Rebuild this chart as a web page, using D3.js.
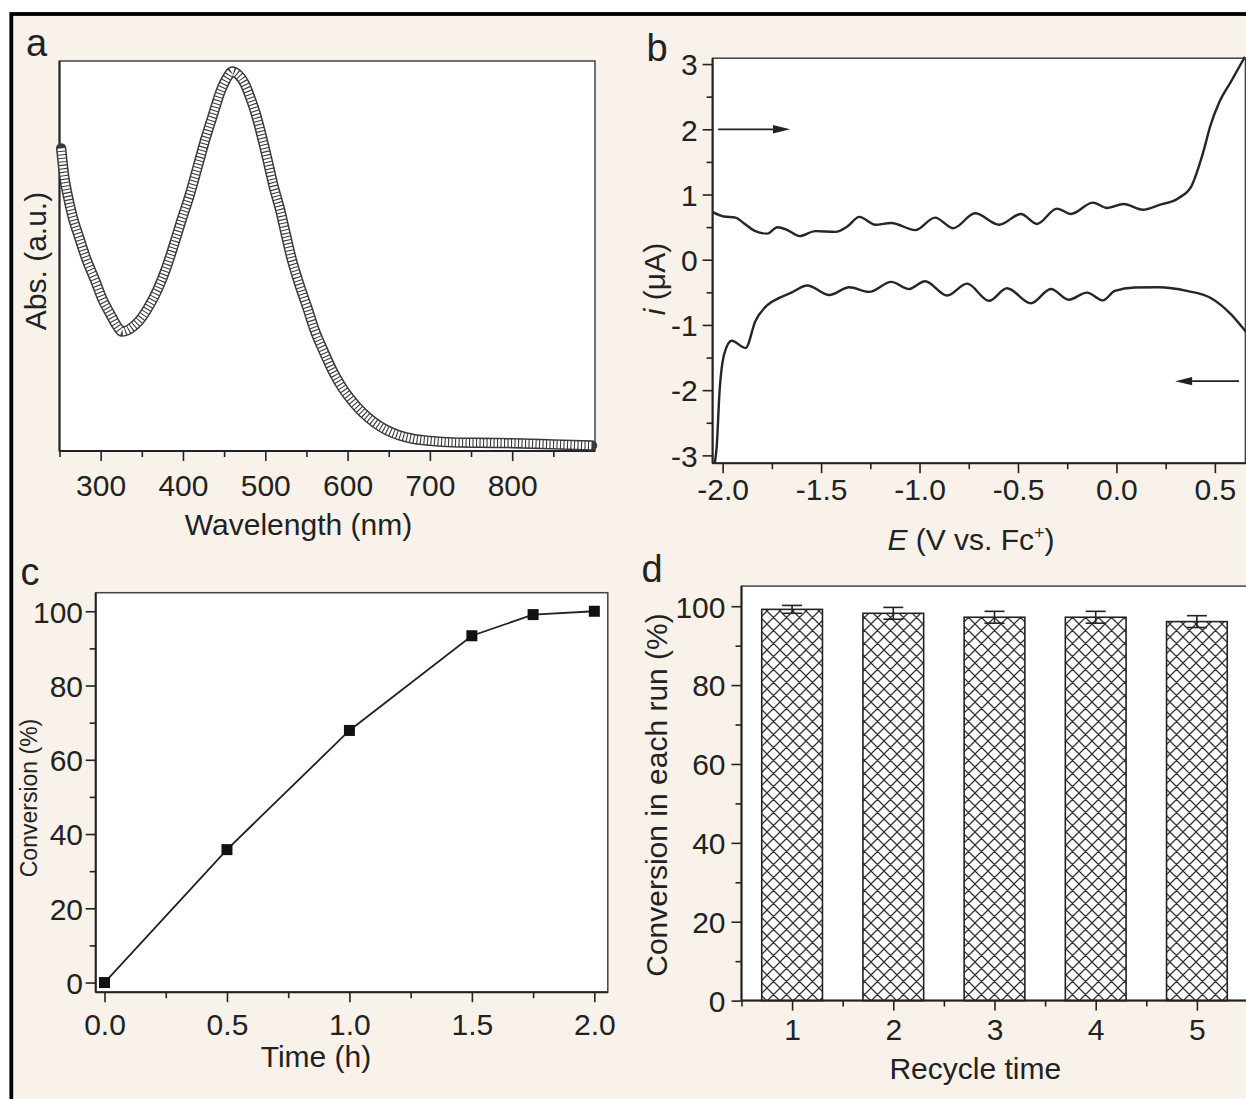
<!DOCTYPE html>
<html><head><meta charset="utf-8">
<script src="https://cdn.jsdelivr.net/npm/d3@7"></script>
<style>
body{margin:0;background:#fff}
svg{display:block}
text{font-family:"Liberation Sans",Arial,Helvetica,sans-serif;fill:#222}
</style>
</head><body>
<svg id="fig" width="1246" height="1099"></svg>
<script>
// ---------- DATA ----------
// (a) UV-vis absorption spectrum (arbitrary units, 0..1 of plot height)
const uvWavelength = [252,256,260,266,274,283,293,302,312,320,326,333,340,346,357,369,379,389,398,408,418,427,437,446,453,460,467,475,482,489,496,503,510,518,525,532,541,551,560,570,582,594,606,618,632,647,663,680,700,728,760,800,850,897];
const uvAbsorbance = [0.776,0.70,0.655,0.60,0.547,0.49,0.439,0.39,0.350,0.320,0.306,0.310,0.320,0.332,0.365,0.413,0.465,0.529,0.59,0.655,0.73,0.798,0.865,0.924,0.955,0.973,0.965,0.942,0.905,0.861,0.805,0.744,0.68,0.619,0.555,0.493,0.43,0.368,0.31,0.260,0.205,0.161,0.127,0.099,0.074,0.054,0.040,0.031,0.026,0.022,0.021,0.020,0.017,0.014];
const uvTicks = [300,400,500,600,700,800];
const uvMinorTicks = [250,350,450,550,650,750,850];

// (b) cyclic voltammogram
const cvForwardE = [-2.051,-1.995,-1.934,-1.894,-1.834,-1.773,-1.722,-1.671,-1.610,-1.529,-1.427,-1.367,-1.306,-1.225,-1.144,-1.022,-0.921,-0.829,-0.718,-0.596,-0.485,-0.404,-0.302,-0.231,-0.119,-0.048,0.037,0.134,0.215,0.317,0.378,0.439,0.479,0.520,0.581,0.652];
const cvForwardI = [0.729,0.663,0.646,0.564,0.438,0.400,0.498,0.454,0.362,0.438,0.427,0.509,0.657,0.537,0.564,0.454,0.646,0.482,0.712,0.537,0.701,0.548,0.784,0.701,0.876,0.794,0.854,0.767,0.838,0.948,1.112,1.632,2.071,2.399,2.728,3.11];
const cvReverseE = [-2.040,-2.030,-2.016,-1.991,-1.954,-1.883,-1.834,-1.773,-1.712,-1.651,-1.570,-1.458,-1.357,-1.256,-1.144,-1.053,-0.972,-0.860,-0.759,-0.647,-0.556,-0.434,-0.333,-0.242,-0.150,-0.069,-0.008,0.093,0.215,0.358,0.479,0.581,0.658];
const cvReverseI = [-3.12,-2.859,-2.038,-1.436,-1.243,-1.353,-0.942,-0.696,-0.586,-0.504,-0.395,-0.542,-0.422,-0.493,-0.340,-0.449,-0.329,-0.548,-0.367,-0.630,-0.438,-0.668,-0.449,-0.613,-0.504,-0.624,-0.477,-0.427,-0.422,-0.477,-0.586,-0.833,-1.106];
const cvXTicks = [-2.0,-1.5,-1.0,-0.5,0.0,0.5];
const cvXMinorTicks = [-1.75,-1.25,-0.75,-0.25,0.25];
const cvYTicks = [-3,-2,-1,0,1,2,3];
const cvYMinorTicks = [-2.5,-1.5,-0.5,0.5,1.5,2.5];
// scan-direction arrows [E start, E end, i]
const arrowForward = [-2.023,-1.658,2.0];
const arrowReverse = [0.623,0.298,-1.862];

// (c) conversion vs time
const timeH = [0,0.5,1.0,1.5,1.75,2.0];
const conversionPct = [0,35.8,67.9,93.4,99.1,100];
const timeTicks = [0,0.5,1.0,1.5,2.0];
const timeMinorTicks = [0.25,0.75,1.25,1.75];
const convTicks = [0,20,40,60,80,100];
const convMinorTicks = [10,30,50,70,90];

// (d) recycling
const recycleRun = [1,2,3,4,5];
const recycleConv = [99.2,98.2,97.2,97.2,96.1];
const recycleErr = [1.0,1.5,1.5,1.5,1.5];
const recycleMinorTicks = [0.5,1.5,2.5,3.5,4.5,5.5];

// ---------- DRAWING ----------
const svg = d3.select('#fig');
svg.append('rect').attr('x',11.3).attr('y',14).attr('width',1260).attr('height',1120)
  .attr('fill','#f9f2ea').attr('stroke','#000').attr('stroke-width',3.8);

const defs = svg.append('defs');
const P = 13;
const pat = defs.append('pattern').attr('id','xhatch').attr('patternUnits','userSpaceOnUse')
  .attr('width',P).attr('height',P);
pat.append('rect').attr('width',P).attr('height',P).attr('fill','#fff');
pat.append('path')
  .attr('d',`M-2,-2L${P+2},${P+2}M${P-2},-2L${P+2},2M-2,${P-2}L2,${P+2}` +
            `M-2,${P+2}L${P+2},-2M-2,2L2,-2M${P-2},${P+2}L${P+2},${P-2}`)
  .attr('stroke','#333').attr('stroke-width',1.25).attr('fill','none');

function frame(x0,y0,x1,y1){
  svg.append('rect').attr('x',x0).attr('y',y0).attr('width',x1-x0).attr('height',y1-y0)
    .attr('fill','#fff').attr('stroke','#444').attr('stroke-width',1.5);
}
function styleAxis(g){
  g.select('.domain').remove();
  g.selectAll('.tick line').attr('stroke','#222').attr('stroke-width',1.6);
  g.selectAll('.tick text').style('font-size','30px').attr('fill','#222');
}
function bottomAxis(scale,y,major,minor,fmt,labelOff){
  const g = svg.append('g').attr('transform',`translate(0,${y})`)
    .call(d3.axisBottom(scale).tickValues(major).tickSize(10).tickFormat(fmt));
  styleAxis(g);
  g.selectAll('.tick text').attr('y',labelOff).attr('dy',0);
  const m = svg.append('g').attr('transform',`translate(0,${y})`)
    .call(d3.axisBottom(scale).tickValues(minor).tickSize(6).tickFormat(''));
  styleAxis(m);
}
function leftAxis(scale,x,major,minor,fmt,labelOff){
  const g = svg.append('g').attr('transform',`translate(${x},0)`)
    .call(d3.axisLeft(scale).tickValues(major).tickSize(10).tickFormat(fmt));
  styleAxis(g);
  g.selectAll('.tick text').attr('x',-labelOff).attr('dy','0.36em');
  const m = svg.append('g').attr('transform',`translate(${x},0)`)
    .call(d3.axisLeft(scale).tickValues(minor).tickSize(6).tickFormat(''));
  styleAxis(m);
}
function axisLine(x0,y0,x1,y1){
  svg.append('line').attr('x1',x0).attr('y1',y0).attr('x2',x1).attr('y2',y1)
    .attr('stroke','#222').attr('stroke-width',2);
}
function label(txt,x,y,size,rot){
  const t = svg.append('text').attr('text-anchor','middle').style('font-size',size+'px');
  if(rot){ t.attr('transform',`translate(${x},${y}) rotate(-90)`).attr('dy','0.35em'); }
  else { t.attr('x',x).attr('y',y); }
  t.text(txt);
  return t;
}

// ----- panel a -----
const xa = d3.scaleLinear().domain([250,900]).range([59.5,594.5]);
const ya = d3.scaleLinear().domain([0,1]).range([451,61]);
frame(59.5,61,595,451);
axisLine(59.5,61,59.5,451); axisLine(59.5,451,595,451);
bottomAxis(xa,451,uvTicks,uvMinorTicks,d=>d,45);
const uvPts = uvWavelength.map((w,i)=>[w,uvAbsorbance[i]]);
const lineA = d3.line().x(d=>xa(d[0])).y(d=>ya(d[1])).curve(d3.curveMonotoneX);
svg.append('path').attr('d',lineA(uvPts)).attr('fill','none').attr('stroke','#3a3a3a')
  .attr('stroke-width',10.4).attr('stroke-linecap','round').attr('stroke-linejoin','round');
svg.append('path').attr('d',lineA(uvPts)).attr('fill','none').attr('stroke','#fff')
  .attr('stroke-width',7.4).attr('stroke-linecap','butt').attr('stroke-dasharray','2.4 1.1');
label('a',36.5,56,38);
label('Abs. (a.u.)',35.6,261,30,true);
label('Wavelength (nm)',298.5,534.5,30);

// ----- panel b -----
const xb = d3.scaleLinear().domain([-2.051,0.655]).range([712.6,1245.4]);
const yb = d3.scaleLinear().domain([-3.12,3.09]).range([463.2,58.2]);
frame(712.6,58.2,1245.4,463.2);
axisLine(712.6,58.2,712.6,463.2); axisLine(712.6,463.2,1246,463.2);
bottomAxis(xb,463.2,cvXTicks,cvXMinorTicks,d=>d.toFixed(1),36.8);
leftAxis(yb,712.6,cvYTicks,cvYMinorTicks,d=>String(d),14.8);
const lineB = d3.line().x(d=>xb(d[0])).y(d=>yb(d[1])).curve(d3.curveMonotoneX);
const fwd = cvForwardE.map((e,i)=>[e,cvForwardI[i]]);
const rev = cvReverseE.map((e,i)=>[e,cvReverseI[i]]);
[fwd,rev].forEach(p=>{
  svg.append('path').attr('d',lineB(p)).attr('fill','none').attr('stroke','#262626')
    .attr('stroke-width',2.4).attr('stroke-linejoin','round');
});
function arrow(a,dir){
  const x0 = xb(a[0]), x1 = xb(a[1]), y = yb(a[2]);
  const head = 17*dir;
  svg.append('line').attr('x1',x0).attr('y1',y).attr('x2',x1-head).attr('y2',y)
    .attr('stroke','#222').attr('stroke-width',1.8);
  svg.append('path').attr('d',`M${x1},${y}L${x1-head},${y-4.2}L${x1-head},${y+4.2}Z`).attr('fill','#222');
}
arrow(arrowForward,1);
arrow(arrowReverse,-1);
label('b',657,61,38);
const yl = svg.append('text').attr('text-anchor','middle').style('font-size','30px')
  .attr('transform','translate(654,279) rotate(-90)').attr('dy','0.35em');
yl.append('tspan').style('font-style','italic').text('i');
yl.append('tspan').text(' (μA)');
const xl = svg.append('text').attr('text-anchor','middle').style('font-size','30px')
  .attr('x',971).attr('y',550);
xl.append('tspan').style('font-style','italic').text('E');
xl.append('tspan').text(' (V vs. Fc');
xl.append('tspan').style('font-size','18px').attr('dy',-11).text('+');
xl.append('tspan').attr('dy',11).text(')');

// ----- panel c -----
const xc = d3.scaleLinear().domain([-0.036,2.055]).range([95.7,607.8]);
const yc = d3.scaleLinear().domain([-2.6,105]).range([992.2,592.7]);
frame(95.7,592.7,607.8,992.2);
axisLine(95.7,592.7,95.7,992.2); axisLine(95.7,992.2,607.8,992.2);
bottomAxis(xc,992.2,timeTicks,timeMinorTicks,d=>d.toFixed(1),42.8);
leftAxis(yc,95.7,convTicks,convMinorTicks,d=>String(d),12.7);
const convPts = timeH.map((t,i)=>[t,conversionPct[i]]);
svg.append('path').attr('d',d3.line().x(d=>xc(d[0])).y(d=>yc(d[1]))(convPts))
  .attr('fill','none').attr('stroke','#222').attr('stroke-width',1.8);
svg.selectAll('rect.sq').data(convPts).join('rect').attr('class','sq')
  .attr('x',d=>xc(d[0])-5.5).attr('y',d=>yc(d[1])-5.5).attr('width',11).attr('height',11)
  .attr('fill','#111');
label('c',30,585,38);
label('Conversion (%)',28.7,798,23,true);
label('Time (h)',316,1067,30);

// ----- panel d -----
const xd = d3.scaleLinear().domain([0.5,5.5]).range([741.5,1247.5]);
const yd = d3.scaleLinear().domain([0,105.1]).range([1000.6,586.1]);
frame(741.5,586.1,1248,1000.6);
const barW = xd(1.3)-xd(0.7);
svg.selectAll('rect.bar').data(recycleRun).join('rect').attr('class','bar')
  .attr('x',(d)=>xd(d)-barW/2).attr('y',(d,i)=>yd(recycleConv[i]))
  .attr('width',barW).attr('height',(d,i)=>yd(0)-yd(recycleConv[i]))
  .attr('fill','url(#xhatch)').attr('stroke','#222').attr('stroke-width',1.6);
const eb = svg.selectAll('g.eb').data(recycleRun).join('g').attr('class','eb');
eb.append('line').attr('x1',d=>xd(d)).attr('x2',d=>xd(d))
  .attr('y1',(d,i)=>yd(recycleConv[i]+recycleErr[i])).attr('y2',(d,i)=>yd(recycleConv[i]-recycleErr[i]))
  .attr('stroke','#222').attr('stroke-width',1.6);
[1,-1].forEach(s=>{
  eb.append('line').attr('x1',d=>xd(d)-10).attr('x2',d=>xd(d)+10)
    .attr('y1',(d,i)=>yd(recycleConv[i]+s*recycleErr[i])).attr('y2',(d,i)=>yd(recycleConv[i]+s*recycleErr[i]))
    .attr('stroke','#222').attr('stroke-width',1.6);
});
axisLine(741.5,586.1,741.5,1000.6); axisLine(741.5,1000.6,1246,1000.6);
bottomAxis(xd,1000.6,recycleRun,recycleMinorTicks,d=>String(d),39.6);
leftAxis(yd,741.5,convTicks,convMinorTicks,d=>String(d),16);
label('d',652,581.5,38);
label('Conversion in each run (%)',656,795,30,true);
label('Recycle time',975.3,1079,30);
</script>
</body></html>
